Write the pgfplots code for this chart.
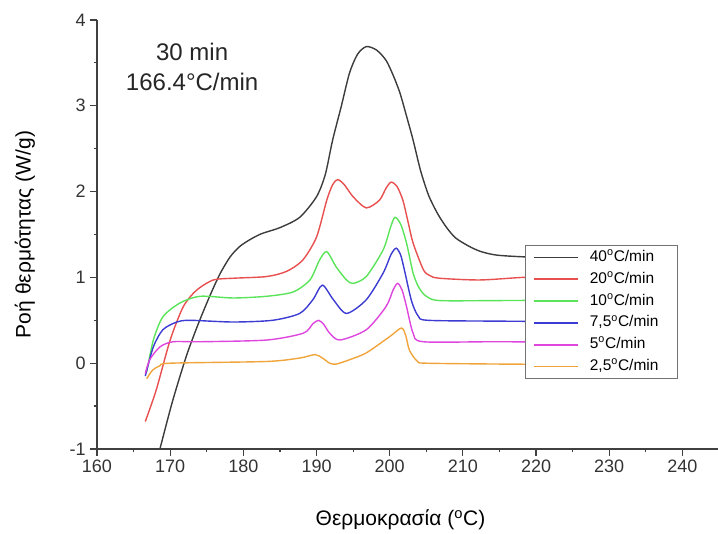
\documentclass[border=0pt]{standalone}
\usepackage{pgfplots}
\pgfplotsset{compat=1.18}
\usepackage{fontspec}
\setmainfont{Liberation Sans}
\definecolor{cblack}{RGB}{60,60,60}
\definecolor{cred}{RGB}{232,80,80}
\definecolor{cgreen}{RGB}{90,228,90}
\definecolor{cblue}{RGB}{60,60,210}
\definecolor{cmag}{RGB}{222,70,222}
\definecolor{corange}{RGB}{240,165,60}
\begin{document}
\begin{tikzpicture}
\begin{axis}[
  at={(0,0)}, anchor=south west,
  scale only axis, width=466.5pt, height=321.75pt,
  xmin=160, xmax=245, ymin=-1, ymax=4,
  axis lines=left, axis line style={-, line width=1pt, draw=black!75},
  xtick={160,170,...,240}, ytick={-1,0,...,4},
  minor x tick num=1, minor y tick num=1,
  tick align=outside, major tick length=5pt, minor tick length=2.5pt,
  tick style={line width=0.9pt, draw=black!75},
  ticklabel style={font=\fontsize{13.5}{15}\selectfont, text=black!80},
  /pgf/number format/assume math mode=true,
  xlabel={Θερμοκρασία (\textsuperscript{o}C)},
  ylabel={Ροή θερμότητας (W/g)},
  label style={font=\fontsize{15.75}{18}\selectfont},
  xlabel style={at={(axis description cs:0.488,-0.166)}, anchor=center},
  ylabel style={at={(axis description cs:-0.116,0.5)}, anchor=center},
  legend style={at={(axis description cs:0.688,0.4755)}, anchor=north west,
    draw=black!55, line width=0.8pt, fill=white, inner xsep=6pt, inner ysep=3.5pt,
    font=\fontsize{11.6}{13}\selectfont, row sep=5.35pt, column sep=0pt,
    nodes={text height=8.5pt, text depth=2.5pt, inner xsep=8pt, inner ysep=0pt}},
  legend cell align=left,
  legend image code/.code={\draw[#1, line width=1.3pt] (0pt,0pt) -- (33pt,0pt);},
  every axis plot/.append style={line width=1.05pt, smooth, tension=0.45},
]
\addplot[cblack] coordinates {(168.6,-1.0) (170.3,-0.45) (172.2,0.08) (173.8,0.45) (175.4,0.78) (176.8,1.04) (178.2,1.24) (179.5,1.36) (180.9,1.44) (182.5,1.51) (185,1.58) (187.7,1.70) (190,1.94) (191.2,2.2) (192.2,2.6) (193.4,3.0) (194.5,3.38) (195.6,3.6) (196.8,3.69) (198.2,3.65) (199.5,3.53) (200.5,3.35) (201.4,3.15) (202.3,2.88) (203.2,2.6) (204.2,2.25) (205.3,1.96) (206.5,1.75) (207.7,1.59) (209,1.46) (210.9,1.36) (212.5,1.30) (214.6,1.26) (218.2,1.24) (225,1.22) (236,1.21)};
\addlegendentry{40\textsuperscript{o}C/min}
\addplot[cred] coordinates {(166.6,-0.68) (168.1,-0.31) (170,0.27) (171.8,0.66) (173.6,0.85) (175.9,0.97) (178.6,0.99) (183.2,1.01) (185.9,1.07) (188.1,1.20) (190,1.47) (191.4,1.90) (192.2,2.08) (192.9,2.14) (193.8,2.08) (195,1.94) (196.8,1.81) (198.6,1.90) (199.5,2.04) (200.2,2.11) (201,2.06) (201.8,1.90) (202.5,1.65) (203.2,1.40) (204.6,1.09) (205.5,1.02) (206.8,0.99) (212.3,0.97) (218.2,1.00) (225,1.02) (236,1.03)};
\addlegendentry{20\textsuperscript{o}C/min}
\addplot[cgreen] coordinates {(166.8,-0.1) (167.7,0.27) (169,0.54) (171.3,0.70) (174.1,0.78) (178.6,0.76) (183.2,0.78) (186.8,0.83) (189.1,0.97) (190.4,1.20) (191.4,1.30) (192.7,1.12) (194.1,0.97) (195,0.93) (196.8,1.01) (199.1,1.32) (200.1,1.58) (200.7,1.70) (201.5,1.62) (202.3,1.40) (203.2,1.05) (204,0.88) (205,0.78) (206.8,0.73) (215,0.73) (236,0.74)};
\addlegendentry{10\textsuperscript{o}C/min}
\addplot[cblue] coordinates {(166.6,-0.15) (167.7,0.19) (169,0.39) (170.9,0.48) (172.7,0.50) (178.6,0.48) (184,0.50) (187.7,0.58) (189.5,0.74) (190.8,0.91) (192.3,0.74) (194.1,0.58) (196.8,0.74) (199.1,1.05) (200.2,1.27) (200.9,1.34) (201.5,1.26) (202,1.09) (203,0.72) (203.9,0.55) (205.2,0.50) (215,0.49) (236,0.48)};
\addlegendentry{7,5\textsuperscript{o}C/min}
\addplot[cmag] coordinates {(166.6,-0.12) (167.2,0.04) (168.6,0.19) (170.4,0.25) (174.1,0.25) (183.2,0.27) (188.2,0.35) (189.5,0.46) (190.3,0.50) (191,0.45) (191.8,0.35) (193.2,0.27) (196.8,0.39) (199.5,0.66) (200.5,0.86) (201.1,0.93) (201.7,0.85) (202.3,0.66) (203.2,0.35) (204.6,0.25) (215,0.25) (236,0.24)};
\addlegendentry{5\textsuperscript{o}C/min}
\addplot[corange] coordinates {(166.8,-0.18) (167.6,-0.08) (168.6,-0.03) (170,0.0) (183.2,0.02) (187.7,0.06) (189.8,0.10) (190.8,0.06) (191.8,0.0) (192.7,-0.01) (194.5,0.04) (196.8,0.12) (200,0.31) (201.6,0.41) (202.2,0.32) (202.7,0.15) (203.8,0.02) (205,0.0) (215,-0.01) (236,-0.02)};
\addlegendentry{2,5\textsuperscript{o}C/min}
\node[font=\fontsize{18}{22.5}\selectfont, align=center, text=black!85] at (axis description cs:0.153,0.89) {30 min\\166.4°C/min};
\end{axis}
\pgfresetboundingbox
\path[use as bounding box] (-72.75pt,-63.75pt) rectangle (465.75pt,336.75pt);
\end{tikzpicture}
\end{document}
